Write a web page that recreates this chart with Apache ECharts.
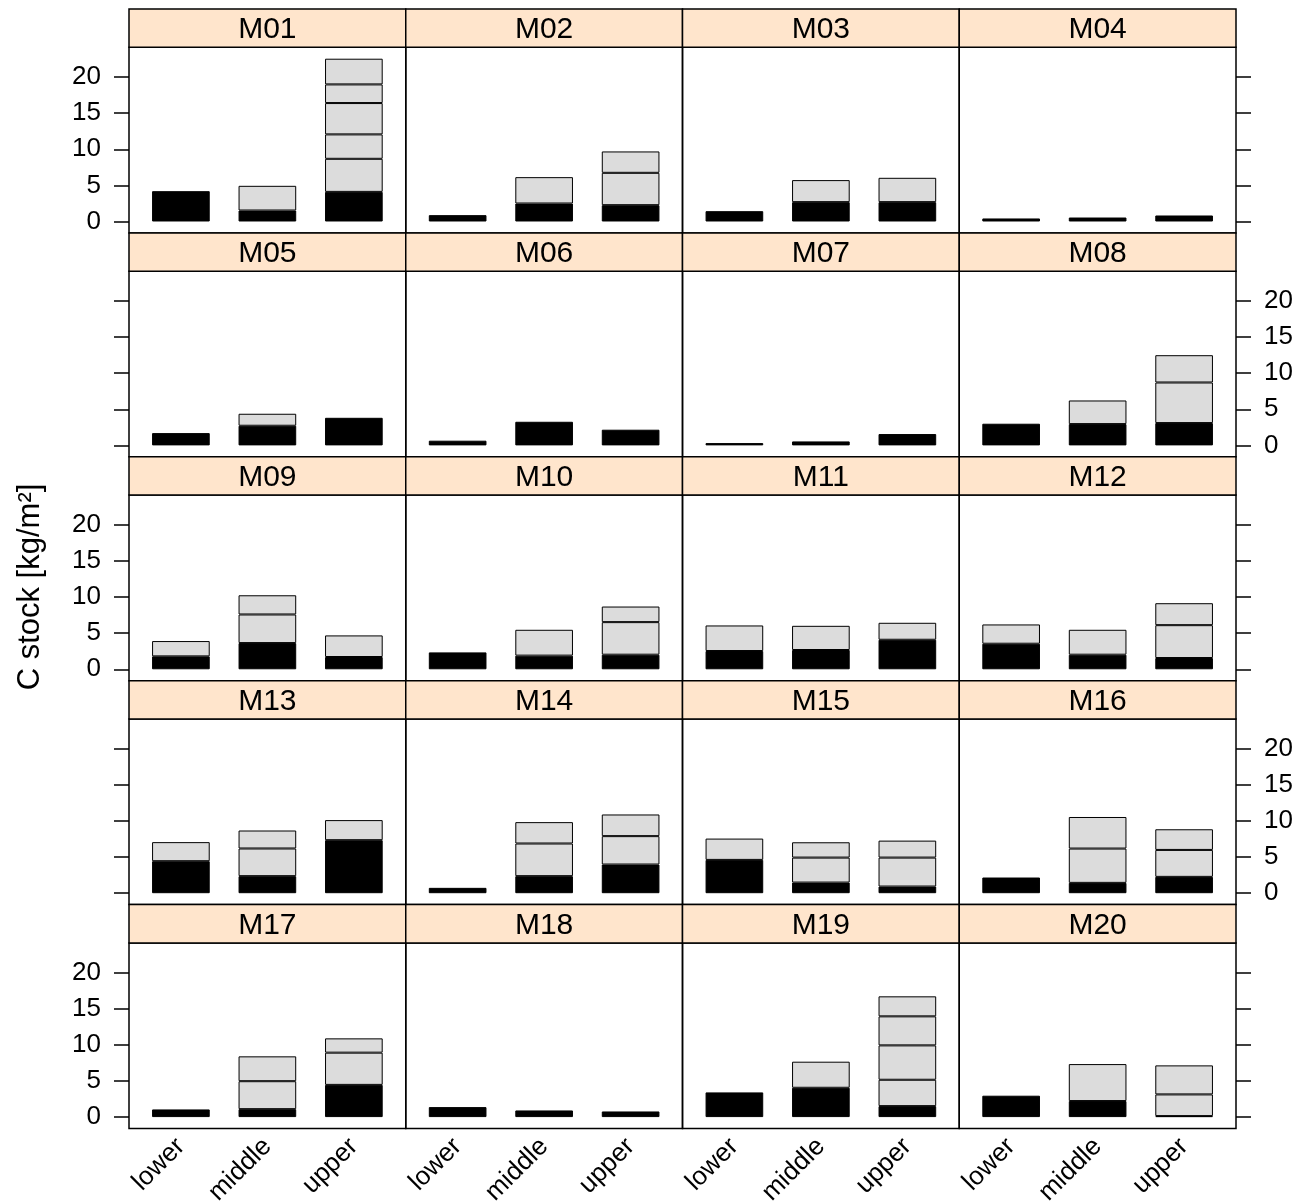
<!DOCTYPE html>
<html>
<head>
<meta charset="utf-8">
<script src="https://cdn.jsdelivr.net/npm/echarts@6/dist/echarts.min.js"></script>
<style>
html,body{margin:0;padding:0;background:#fff;}
#chart{width:1314px;height:1202px;}
</style>
</head>
<body>
<div id="chart"></div>
<script>
// ---- data ----
const panels = ['M01','M02','M03','M04','M05','M06','M07','M08','M09','M10',
                'M11','M12','M13','M14','M15','M16','M17','M18','M19','M20'];
const positions = ['lower','middle','upper'];
const yTicks = [0, 5, 10, 15, 20];
const yTitle = 'C stock [kg/m²]';
// stacked segments (bottom first) per panel, kg/m²
const lowerSegs = [
  [4.20], [0.88], [1.43], [0.42],
  [1.70], [0.65], [0.32], [3.00],
  [1.79, 2.12], [2.34], [2.53, 3.54], [3.54, 2.67],
  [4.43, 2.64], [0.74], [4.61, 2.95], [2.17],
  [1.06], [1.38], [3.42], [2.96]
];
const middleSegs = [
  [1.52, 3.42], [2.49, 3.65], [2.68, 3.05], [0.55],
  [2.72, 1.66], [3.27], [0.55], [2.95, 3.27],
  [3.63, 3.96, 2.66], [1.89, 3.58], [2.67, 3.35], [2.02, 3.45],
  [2.36, 3.83, 2.49], [2.36, 4.52, 2.96], [1.47, 3.46, 2.12], [1.43, 4.75, 4.37],
  [1.10, 3.87, 3.44], [0.92], [4.06, 3.61], [2.22, 5.12]
];
const upperSegs = [
  [4.10, 4.58, 3.38, 4.34, 2.58, 3.56], [2.26, 4.48, 2.96], [2.68, 3.37], [0.83],
  [3.82], [2.17], [1.57], [3.09, 5.62, 3.78],
  [1.70, 2.99], [2.02, 4.51, 2.16], [4.09, 2.35], [1.56, 4.55, 3.04],
  [7.34, 2.78], [3.97, 3.93, 3.00], [0.92, 4.01, 2.35], [2.26, 3.73, 2.86],
  [4.46, 4.46, 1.98], [0.78], [1.52, 3.65, 4.76, 4.02, 2.77], [0.14, 3.00, 4.02]
];

// ---- layout / style ----
const FONT = '"Liberation Sans", Arial, Helvetica, sans-serif';
const X0 = 129, PW = 276.75;          // panel left, panel width
const Y0 = 9, STRIP = 38.3, PH = 185.6, PITCH = 223.9;
const Y_MIN = -1.58, Y_MAX = 24.12;
const UNIT = PW / 3.2;                 // one category band (lattice limits 0.4..3.6)
const PAD = 0.1 * UNIT;                // gap between panel border and first band
const BAR_W = UNIT * 2 / 3;
const LINE_W = 1.5;
const BAR_LINE_W = 1;

const chart = echarts.init(document.getElementById('chart'), null, {renderer: 'canvas'});
const option = {
  animation: false,
  backgroundColor: '#ffffff',
  grid: [], xAxis: [], yAxis: [], series: [], graphic: []
};

const segSets = [lowerSegs, middleSegs, upperSegs];
let yIdx = 0;
panels.forEach((name, i) => {
  const r = Math.floor(i / 4), c = i % 4;
  const left = X0 + c * PW;
  const stripTop = Y0 + r * PITCH;
  const top = stripTop + STRIP;
  option.grid.push({
    left: left + PAD, top: top, width: PW - 2 * PAD, height: PH,
    show: false, containLabel: false, outerBoundsMode: 'none'
  });
  option.xAxis.push({
    gridIndex: i, type: 'category', data: positions, boundaryGap: true,
    show: r === 4,
    axisLine: {show: false}, axisTick: {show: false}, splitLine: {show: false},
    axisLabel: {interval: 0, rotate: 45, fontSize: 26, color: '#000', fontFamily: FONT, margin: 14}
  });
  const tickStyle = {color: '#000', width: LINE_W};
  option.yAxis.push({
    gridIndex: i, type: 'value', min: Y_MIN, max: Y_MAX, position: 'left', offset: PAD,
    show: c === 0,
    axisLine: {show: false}, splitLine: {show: false},
    axisTick: {show: true, inside: false, length: 15, customValues: yTicks, lineStyle: tickStyle},
    axisLabel: {show: r % 2 === 0, customValues: yTicks, margin: 28, fontSize: 26,
                color: '#000', fontFamily: FONT}
  });
  const dataAxis = yIdx;
  yIdx++;
  if (c === 3) {
    option.yAxis.push({
      gridIndex: i, type: 'value', min: Y_MIN, max: Y_MAX, position: 'right', offset: PAD,
      axisLine: {show: false}, splitLine: {show: false},
      axisTick: {show: true, inside: false, length: 15, customValues: yTicks, lineStyle: tickStyle},
      axisLabel: {show: r % 2 === 1, customValues: yTicks, margin: 28, fontSize: 26,
                  color: '#000', fontFamily: FONT}
    });
    yIdx++;
  }
  const maxSeg = Math.max(...segSets.map(s => s[i].length));
  for (let k = 0; k < maxSeg; k++) {
    const data = segSets.map(s => (s[i].length > k ? s[i][k] : '-'));
    option.series.push({
      type: 'bar', xAxisIndex: i, yAxisIndex: dataAxis, stack: 'st' + i,
      barWidth: BAR_W, silent: true, data: data,
      itemStyle: {color: k === 0 ? '#000000' : '#dcdcdc', borderColor: '#000', borderWidth: BAR_LINE_W}
    });
  }
  // panel frame
  option.graphic.push({
    type: 'rect', z: 9, silent: true,
    shape: {x: left, y: top, width: PW, height: PH},
    style: {fill: 'none', stroke: '#000', lineWidth: LINE_W}
  });
  // strip
  option.graphic.push({
    type: 'rect', z: 10,
    shape: {x: left, y: stripTop, width: PW, height: STRIP},
    style: {fill: '#ffe5cc', stroke: '#000', lineWidth: LINE_W}
  });
  option.graphic.push({
    type: 'text', z: 11,
    x: left + PW / 2, y: stripTop + STRIP / 2 + 2,
    style: {text: name, fill: '#000', font: '30px ' + FONT, textAlign: 'center', textVerticalAlign: 'middle'}
  });
});
option.graphic.push({
  type: 'text', z: 11, x: 30, y: 587, rotation: Math.PI / 2,
  style: {text: yTitle, fill: '#000', font: '31px ' + FONT, textAlign: 'center', textVerticalAlign: 'middle'}
});
chart.setOption(option);
</script>
</body>
</html>
